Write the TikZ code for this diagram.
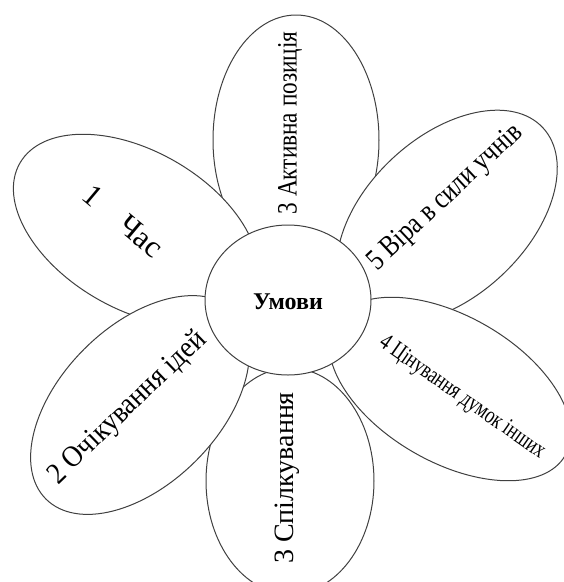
\documentclass[tikz,border=0pt]{standalone}
\usepackage{fontspec}
\usepackage{graphicx}
\setmainfont{Liberation Serif}
\usetikzlibrary{shapes.geometric}
\begin{document}
\begin{tikzpicture}[x=1pt,y=-1pt,
  petal/.style={draw=black!75, line width=1pt, fill=white, ellipse, inner sep=0pt},
  lbl/.style={inner sep=0pt, text=black},
]
\useasboundingbox (0,0) rectangle (564,582);
\clip (0,0) rectangle (564,582);
% petals (drawing order matters)
\node[petal, minimum width=166pt, minimum height=250pt] (ptop) at (296,140) {};
\node[petal, minimum width=168pt, minimum height=226pt] (pbot) at (290,481) {};
\node[petal, minimum width=268pt, minimum height=158pt, rotate=-30] (p1) at (136,230) {};
\node[petal, minimum width=262pt, minimum height=160pt, rotate=43] (p5) at (447,217) {};
\node[petal, minimum width=266pt, minimum height=158pt, rotate=45] (p2) at (140,405) {};
\node[petal, minimum width=266pt, minimum height=146pt, rotate=-30] (p4) at (450,389) {};
\node[petal, minimum width=166pt, minimum height=150pt] (c) at (288,300) {};
% labels
\node[lbl, rotate=-40, font=\fontsize{31}{36}\selectfont] (t1) at (123,221) {1\quad Час};
\node[lbl, rotate=90, font=\fontsize{28}{34}\selectfont] (t3a) at (290,123) {\scalebox{0.83}[1]{3 Активна позиція}};
\node[lbl, rotate=43, font=\fontsize{30}{36}\selectfont] (t5) at (446,198) {\scalebox{0.82}[1]{5 Віра в сили учнів}};
\node[lbl, rotate=-35, font=\fontsize{24}{30}\selectfont] (t4) at (462,398) {\scalebox{0.75}[1]{4 Цінування думок інших}};
\node[lbl, rotate=44, font=\fontsize{30}{36}\selectfont] (t2) at (128,408) {\scalebox{0.9}[1]{2 Очікування ідей}};
\node[lbl, rotate=90, font=\fontsize{28}{34}\selectfont] (t3b) at (287,478) {3 Спілкування};
\node[lbl, font=\fontsize{24}{29}\selectfont\bfseries] (tc) at (288,302) {Умови};
\end{tikzpicture}
\end{document}
